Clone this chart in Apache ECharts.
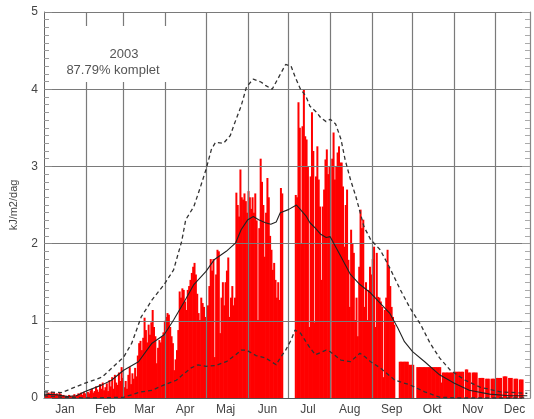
<!DOCTYPE html>
<html>
<head>
<meta charset="utf-8">
<script src="https://cdn.jsdelivr.net/npm/echarts@6/dist/echarts.min.js"></script>
<style>html,body{margin:0;padding:0;background:#fff;}#c{width:534px;height:419px;}</style>
</head>
<body>
<div id="c"></div>
<script>
// ---- data (daily kJ/m2/dag, 2003) ----
const monthNames = ['Jan','Feb','Mar','Apr','Maj','Jun','Jul','Aug','Sep','Okt','Nov','Dec'];
const monthStarts = [31,59,90,120,151,181,212,243,273,304,334];
const monthMids = [15,45,74,104,134,165,195,226,257,287,317,348];
const yTicks = [0,1,2,3,4,5];

const jan = [0.03,0.04,0.06,0.07,0.05,0.08,0.06,0.07,0.05,0.06,0.04,0.07,0.05,0.03,0.04,0.02,0.03,0.02,0.04,0.03,0.02,0.03,0.05,0.03,0.04,0.06,0.05,0.07,0.04,0.08,0.06];
const feb = [0.05,0.08,0.06,0.1,0.12,0.07,0.09,0.15,0.11,0.08,0.18,0.12,0.2,0.1,0.14,0.19,0.09,0.23,0.15,0.27,0.12,0.3,0.2,0.17,0.33,0.22,0.4,0.26];
const mar = [0.14,0.22,0.12,0.3,0.4,0.18,0.32,0.25,0.39,0.28,0.55,0.71,0.74,0.62,0.78,1.04,0.88,0.72,0.95,0.82,0.98,1.14,0.92,0.8,0.45,0.65,0.75,0.72,0.8,0.85,1.0];
const apr = [1.05,1.1,1.08,0.92,0.8,0.71,0.36,0.5,0.62,0.88,1.38,1.3,1.42,1.4,1.25,1.14,1.4,1.45,1.53,1.62,1.7,1.75,1.6,1.35,1.1,1.01,1.3,1.23,1.18,1.05];
const may = [0.95,1.2,1.45,1.8,1.65,1.8,0.53,1.6,1.92,1.9,0.84,1.3,1.5,1.2,1.5,1.65,1.82,1.05,1.3,1.45,1.2,1.3,2.66,2.5,2.35,2.96,2.6,2.57,2.65,2.55,2.4];
const jun = [2.68,2.6,2.45,2.6,2.4,2.65,2.3,1.01,2.2,3.1,2.8,2.5,1.83,2.4,2.85,2.6,2.1,1.92,1.66,1.75,1.53,1.3,1.5,1.27,2.72,2.65,null,null,null,null];
const jul = [null,null,null,null,null,2.63,2.6,3.83,3.5,2.0,3.52,4.0,3.39,3.35,3.0,0.92,2.87,3.7,3.2,0.98,2.87,3.26,2.83,2.48,1.53,2.48,2.7,3.09,3.22,2.9,3.0];
const aug = [null,3.1,3.44,2.83,3.0,3.18,3.26,3.05,3.05,2.74,1.96,2.5,2.7,1.79,1.18,2.18,2.0,1.88,1.01,1.3,0.8,1.7,2.44,2.2,2.31,1.18,1.5,1.01,1.4,1.7,1.6];
const sep = [1.8,1.96,0.92,1.88,1.31,1.3,1.25,1.18,0.27,1.14,1.3,1.92,1.7,1.45,1.18,1.05,0.95,null,null,null,0.47,0.47,0.47,0.47,0.47,0.47,0.47,0.43,0.43,0.43];
const okt = [0.43,null,null,0.4,0.4,0.4,0.4,0.4,0.4,0.4,0.4,0.4,0.4,0.4,0.4,0.4,0.4,0.4,0.4,0.4,0.4,0.2,0.33,0.33,0.33,0.33,0.33,0.33,0.33,0.33,0.33];
const nov = [0.34,0.34,0.34,0.34,0.34,0.34,0.34,null,0.37,0.37,0.33,0.33,null,0.33,0.33,0.33,0.33,null,0.26,0.26,0.26,0.26,null,0.25,0.25,0.25,null,0.25,0.25,0.25];
const dec = [null,0.26,0.26,0.26,0.26,null,0.28,0.28,0.28,null,0.26,0.26,0.26,null,0.25,0.25,0.25,null,0.24,0.24,0.24,null,null,null,null,null];

// [day, value]
const meanLine = [[0,0.05],[10,0.04],[17,0.02],[24,0.03],[30,0.08],[43,0.17],[50,0.23],[59,0.36],[70,0.47],[80,0.71],[89,0.82],[96,1.01],[104,1.25],[111,1.47],[120,1.64],[126,1.79],[135,1.9],[142,2.01],[146,2.18],[151,2.31],[155,2.35],[159,2.31],[164,2.27],[168,2.25],[172,2.28],[175,2.4],[181,2.44],[187,2.5],[190,2.44],[194,2.36],[197,2.27],[201,2.2],[205,2.12],[209,2.08],[212,2.09],[220,1.83],[227,1.6],[234,1.47],[242,1.36],[249,1.23],[256,1.1],[262,0.91],[267,0.73],[273,0.6],[282,0.47],[293,0.3],[304,0.19],[315,0.1],[330,0.05],[345,0.03],[358,0.03]];
const maxLine = [[0,0.08],[13,0.07],[30,0.19],[43,0.27],[54,0.45],[59,0.53],[65,0.71],[72,1.05],[80,1.27],[89,1.47],[96,1.66],[102,2.03],[105,2.31],[111,2.48],[116,2.74],[120,2.96],[124,3.22],[127,3.31],[133,3.3],[138,3.4],[141,3.55],[146,3.78],[150,4.03],[155,4.13],[161,4.09],[164,4.05],[167,4.02],[169,4.0],[174,4.16],[179,4.32],[183,4.3],[186,4.16],[190,4.0],[194,3.91],[197,3.78],[202,3.7],[205,3.63],[209,3.58],[212,3.61],[216,3.55],[220,3.35],[223,3.09],[227,2.83],[231,2.61],[237,2.22],[242,2.05],[249,1.92],[256,1.69],[264,1.4],[271,1.17],[279,0.95],[286,0.71],[293,0.52],[301,0.36],[312,0.23],[323,0.14],[338,0.08],[358,0.06]];
const minLine = [[0,0.03],[13,0.01],[35,0.0],[59,0.01],[72,0.08],[80,0.1],[89,0.17],[98,0.23],[104,0.32],[109,0.39],[114,0.43],[120,0.41],[127,0.42],[135,0.47],[142,0.56],[146,0.62],[150,0.62],[157,0.55],[164,0.52],[172,0.43],[175,0.52],[179,0.62],[183,0.75],[186,0.88],[190,0.84],[194,0.73],[197,0.65],[201,0.56],[209,0.62],[212,0.6],[220,0.49],[227,0.47],[234,0.58],[238,0.53],[242,0.47],[249,0.39],[260,0.23],[271,0.17],[282,0.08],[293,0.01],[308,0.0],[358,0.0]];

const bars = [].concat(jan,feb,mar,apr,may,jun,jul,aug,sep,okt,nov,dec);
const dayIdx = bars.map((_, i) => String(i));

const chart = echarts.init(document.getElementById('c'), null, {renderer: 'canvas'});
const gridCol = '#7a7a7a';
const font = "'Liberation Sans', Arial, sans-serif";
chart.setOption({
  animation: false,
  backgroundColor: '#fff',
  grid: {left: 42, top: 12, width: 488, height: 386},
  xAxis: [{
    type: 'category', data: dayIdx, boundaryGap: true, z: 5,
    axisLine: {show: true, lineStyle: {color: '#555', width: 1}},
    axisTick: {show: false},
    axisLabel: {
      interval: (i) => monthMids.includes(i),
      formatter: (v, i) => monthNames[monthMids.indexOf(Number(v))],
      color: '#444', fontSize: 12, fontFamily: font, margin: 6
    },
    splitLine: {show: true, interval: (i) => monthStarts.includes(i), lineStyle: {color: gridCol, width: 1.2}}
  }, {
    type: 'value', min: 0, max: 360, show: false
  }],
  yAxis: [{
    type: 'value', min: 0, max: 5, interval: 1, z: 5,
    name: 'kJ/m2/dag', nameLocation: 'middle', nameRotate: 90, nameGap: 25,
    nameTextStyle: {color: '#444', fontSize: 11, fontFamily: font},
    axisLine: {show: true, lineStyle: {color: '#666', width: 1}},
    axisTick: {show: true, inside: true, length: 8, lineStyle: {color: '#888'}},
    minorTick: {show: true, splitNumber: 10, length: 5, lineStyle: {color: '#999'}},
    axisLabel: {color: '#444', fontSize: 12, fontFamily: font, margin: 6,
      formatter: (v) => yTicks.includes(v) ? String(v) : ''},
    splitLine: {show: true, lineStyle: {color: gridCol, width: 1.2}}
  }, {
    type: 'value', min: 0, max: 5, interval: 1, position: 'right', z: 5,
    axisLine: {show: true, lineStyle: {color: '#888', width: 1}},
    axisTick: {show: true, inside: true, length: 8, lineStyle: {color: '#999'}},
    minorTick: {show: true, splitNumber: 10, length: 5, lineStyle: {color: '#aaa'}},
    axisLabel: {show: false},
    splitLine: {show: false}
  }],
  series: [{
    type: 'bar', data: bars, xAxisIndex: 0, yAxisIndex: 0,
    barWidth: 2, z: 2,
    itemStyle: {color: '#ff0000'}
  }, {
    type: 'line', data: maxLine, xAxisIndex: 1, yAxisIndex: 0, symbol: 'none', z: 8,
    lineStyle: {color: '#333', width: 1.3, type: [4, 3]}
  }, {
    type: 'line', data: meanLine, xAxisIndex: 1, yAxisIndex: 0, symbol: 'none', z: 8,
    lineStyle: {color: '#222', width: 1.1}
  }, {
    type: 'line', data: minLine, xAxisIndex: 1, yAxisIndex: 0, symbol: 'none', z: 8,
    lineStyle: {color: '#333', width: 1.3, type: [4, 3]}
  }],
  graphic: [
    {type: 'rect', x: 50, y: 26, shape: {x: 0, y: 0, width: 148, height: 56}, style: {fill: '#fff'}, z: 10},
    {type: 'text', x: 124, y: 54, style: {text: '2003', fill: '#555', font: '13px ' + font, textAlign: 'center', textVerticalAlign: 'middle'}, z: 11},
    {type: 'text', x: 113, y: 70, style: {text: '87.79% komplet', fill: '#555', font: '13px ' + font, textAlign: 'center', textVerticalAlign: 'middle'}, z: 11}
  ]
});
</script>
</body>
</html>
